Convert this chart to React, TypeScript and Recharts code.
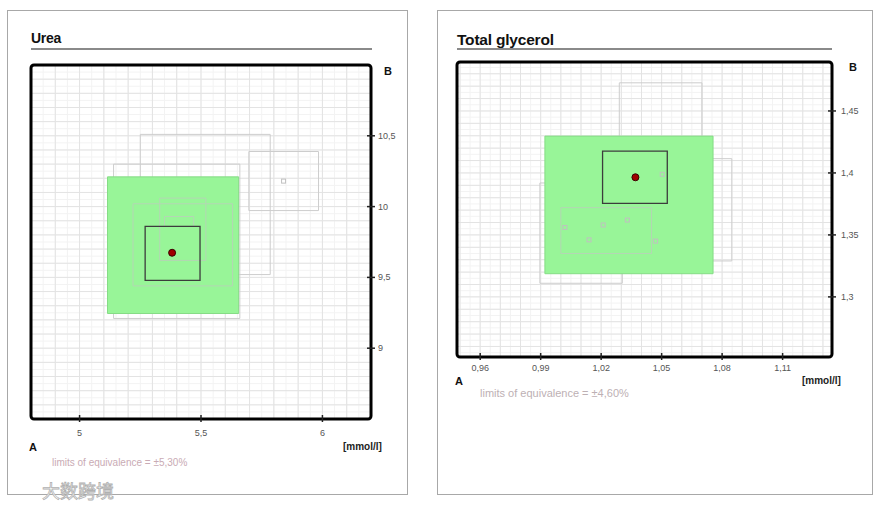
import React from 'react';
import {
  ScatterChart,
  Scatter,
  XAxis,
  YAxis,
  CartesianGrid,
  ReferenceArea,
} from 'recharts';

type Box = [number, number, number, number]; // x1, x2, y1, y2
type Pt = { x: number; y: number };

// ---- Urea ----
const ureaDomainX: [number, number] = [4.8, 6.2];
const ureaDomainY: [number, number] = [8.5, 11];
const ureaXTicks = [5, 5.5, 6];
const ureaYTicks = [9, 9.5, 10, 10.5];
const ureaLimits: Box = [5.115, 5.655, 9.245, 10.21];
const ureaTarget: Box = [5.27, 5.496, 9.479, 9.861];
const ureaOtherBoxes: Box[] = [
  [5.25, 5.785, 9.52, 10.51],
  [5.14, 5.66, 9.21, 10.3],
  [5.697, 5.984, 9.972, 10.389],
];
const ureaFaintBoxes: Box[] = [
  [5.22, 5.63, 9.44, 10.02],
  [5.33, 5.52, 9.62, 10.06],
  [5.35, 5.47, 9.86, 9.93],
];
const ureaResult: Pt[] = [{ x: 5.381, y: 9.674 }];
const ureaOtherPoints: Pt[] = [{ x: 5.84, y: 10.18 }];

// ---- Total glycerol ----
const glyDomainX: [number, number] = [0.9485, 1.1345];
const glyDomainY: [number, number] = [1.2515, 1.4895];
const glyXTicks = [0.96, 0.99, 1.02, 1.05, 1.08, 1.11];
const glyYTicks = [1.3, 1.35, 1.4, 1.45];
const glyLimits: Box = [0.9921, 1.0755, 1.3187, 1.4297];
const glyTarget: Box = [1.0207, 1.0528, 1.3755, 1.4176];
const glyOtherBoxes: Box[] = [
  [1.029, 1.07, 1.329, 1.4727],
  [0.9896, 1.0305, 1.311, 1.3919],
  [1.0227, 1.0848, 1.329, 1.4115],
];
const glyFaintBoxes: Box[] = [
  [1.0, 1.045, 1.335, 1.372],
];
const glyResult: Pt[] = [{ x: 1.037, y: 1.3965 }];
const glyOtherPoints: Pt[] = [
  { x: 1.0503, y: 1.3989 },
  { x: 1.033, y: 1.362 },
  { x: 1.021, y: 1.358 },
  { x: 1.002, y: 1.356 },
  { x: 1.047, y: 1.345 },
  { x: 1.014, y: 1.346 },
];

const steps = (lo: number, hi: number, step: number) => {
  const out: number[] = [];
  for (let v = Math.ceil(lo / step) * step; v <= hi + 1e-9; v += step) out.push(+v.toFixed(4));
  return out;
};

const fmt = (v: number) => String(v).replace('.', ',');
const FONT = '"Liberation Sans", Arial, sans-serif';

const XTick = ({ x, y, payload, dy }: any) => (
  <g>
    <line x1={x} x2={x} y1={y - 4} y2={y + 3} stroke="#222" strokeWidth={1.5} />
    <text x={x} y={y + dy} textAnchor="middle" fontSize={9} fill="#555" fontFamily={FONT}>
      {fmt(payload.value)}
    </text>
  </g>
);

const YTick = ({ x, y, payload, dx }: any) => (
  <g>
    <line x1={x - 4} x2={x + 4} y1={y} y2={y} stroke="#222" strokeWidth={1.5} />
    <text x={x + dx} y={y + 3} textAnchor="start" fontSize={9} fill="#555" fontFamily={FONT}>
      {fmt(payload.value)}
    </text>
  </g>
);

const ResultDot = ({ cx, cy }: any) => (
  <circle cx={cx} cy={cy} r={3.5} fill="#a00000" stroke="#3a0000" strokeWidth={1} />
);
const GrayDot = ({ cx, cy }: any) => (
  <rect x={cx - 2} y={cy - 2} width={4} height={4} fill="none" stroke="#c0c0c0" strokeWidth={1} />
);

interface PanelProps {
  width: number;
  height: number;
  margin: { top: number; right: number; bottom: number; left: number };
  domainX: [number, number];
  domainY: [number, number];
  xTicks: number[];
  yTicks: number[];
  majorX: number;
  majorY: number;
  limits: Box;
  target: Box;
  others: Box[];
  faint: Box[];
  result: Pt[];
  otherPoints: Pt[];
  xLabelDy: number;
  yLabelDx: number;
}

function Panel(p: PanelProps) {
  const [x0, x1] = p.domainX;
  const [y0, y1] = p.domainY;
  return (
    <ScatterChart width={p.width} height={p.height} margin={p.margin}>
      <CartesianGrid
        stroke="#f3f3f3"
        verticalValues={steps(x0, x1, p.majorX / 2)}
        horizontalValues={steps(y0, y1, p.majorY / 2)}
      />
      <CartesianGrid
        stroke="#e3e3e3"
        verticalValues={steps(x0, x1, p.majorX)}
        horizontalValues={steps(y0, y1, p.majorY)}
      />
      <XAxis
        type="number"
        dataKey="x"
        domain={p.domainX}
        ticks={p.xTicks}
        allowDataOverflow
        axisLine={false}
        tickLine={false}
        tickSize={0}
        tickMargin={0}
        height={30}
        interval={0}
        tick={<XTick dy={p.xLabelDy} />}
      />
      <YAxis
        type="number"
        dataKey="y"
        orientation="right"
        domain={p.domainY}
        ticks={p.yTicks}
        allowDataOverflow
        axisLine={false}
        tickLine={false}
        tickSize={0}
        tickMargin={0}
        width={30}
        interval={0}
        tick={<YTick dx={p.yLabelDx} />}
      />
      {p.others.map((b, i) => (
        <ReferenceArea
          key={'o' + i}
          x1={b[0]}
          x2={b[1]}
          y1={b[2]}
          y2={b[3]}
          fill="none"
          stroke="#cdcdcd"
          strokeWidth={1}
        />
      ))}
      <ReferenceArea
        x1={p.limits[0]}
        x2={p.limits[1]}
        y1={p.limits[2]}
        y2={p.limits[3]}
        fill="#98f598"
        fillOpacity={1}
        stroke="#86dc86"
        strokeWidth={1}
      />
      {p.faint.map((b, i) => (
        <ReferenceArea
          key={'f' + i}
          x1={b[0]}
          x2={b[1]}
          y1={b[2]}
          y2={b[3]}
          fill="none"
          stroke="#b4d6b4"
          strokeWidth={1}
        />
      ))}
      <ReferenceArea
        x1={p.target[0]}
        x2={p.target[1]}
        y1={p.target[2]}
        y2={p.target[3]}
        fill="none"
        stroke="#3c3c3c"
        strokeWidth={1.3}
      />
      <ReferenceArea
        x1={x0}
        x2={x1}
        y1={y0}
        y2={y1}
        fill="none"
        stroke="#000"
        strokeWidth={3}
        radius={3}
      />
      <Scatter data={p.otherPoints} shape={<GrayDot />} isAnimationActive={false} />
      <Scatter data={p.result} shape={<ResultDot />} isAnimationActive={false} />
    </ScatterChart>
  );
}

const abs = (left: number, top: number, extra: React.CSSProperties = {}): React.CSSProperties => ({
  position: 'absolute',
  left,
  top,
  fontFamily: FONT,
  whiteSpace: 'nowrap',
  lineHeight: 1,
  ...extra,
});

export default function App() {
  return (
    <div style={{ position: 'absolute', left: 0, top: 0, width: 878, height: 509, background: '#fff', overflow: 'hidden' }}>
      {/* panel frames */}
      <div style={abs(7, 10, { width: 399, height: 483, border: '1px solid #a8a8a8' })} />
      <div style={abs(437, 10, { width: 434, height: 483, border: '1px solid #a8a8a8' })} />

      {/* Urea */}
      <div style={abs(31, 31, { fontSize: 14, fontWeight: 'bold', color: '#111', letterSpacing: -0.3 })}>Urea</div>
      <div style={abs(31, 48, { width: 341, height: 2, background: '#8a8a8a' })} />
      <div style={abs(0, 0)}>
        <Panel
          width={420}
          height={470}
          margin={{ top: 65, left: 31, right: 19, bottom: 21 }}
          domainX={ureaDomainX}
          domainY={ureaDomainY}
          xTicks={ureaXTicks}
          yTicks={ureaYTicks}
          majorX={0.1}
          majorY={0.1}
          limits={ureaLimits}
          target={ureaTarget}
          others={ureaOtherBoxes}
          faint={ureaFaintBoxes}
          result={ureaResult}
          otherPoints={ureaOtherPoints}
          xLabelDy={17}
          yLabelDx={7}
        />
      </div>
      <div style={abs(384, 66, { fontSize: 11, fontWeight: 'bold', color: '#111' })}>B</div>
      <div style={abs(29, 442, { fontSize: 11, fontWeight: 'bold', color: '#111' })}>A</div>
      <div style={abs(343, 442, { fontSize: 10, fontWeight: 'bold', color: '#222' })}>[mmol/l]</div>
      <div style={abs(52, 458, { fontSize: 10, color: '#c9abb4' })}>limits of equivalence = ±5,30%</div>

      {/* Total glycerol */}
      <div style={abs(457, 32, { fontSize: 15.5, fontWeight: 'bold', color: '#111', letterSpacing: -0.2 })}>
        Total glycerol
      </div>
      <div style={abs(457, 48, { width: 375, height: 2, background: '#8a8a8a' })} />
      <div style={abs(426, 0)}>
        <Panel
          width={450}
          height={400}
          margin={{ top: 62, left: 31, right: 14, bottom: 13 }}
          domainX={glyDomainX}
          domainY={glyDomainY}
          xTicks={glyXTicks}
          yTicks={glyYTicks}
          majorX={0.01}
          majorY={0.01}
          limits={glyLimits}
          target={glyTarget}
          others={glyOtherBoxes}
          faint={glyFaintBoxes}
          result={glyResult}
          otherPoints={glyOtherPoints}
          xLabelDy={14}
          yLabelDx={9}
        />
      </div>
      <div style={abs(849, 62, { fontSize: 11, fontWeight: 'bold', color: '#111' })}>B</div>
      <div style={abs(455, 376, { fontSize: 11, fontWeight: 'bold', color: '#111' })}>A</div>
      <div style={abs(802, 376, { fontSize: 10, fontWeight: 'bold', color: '#222' })}>[mmol/l]</div>
      <div style={abs(480, 388, { fontSize: 11, color: '#bdb0b4' })}>limits of equivalence = ±4,60%</div>

      {/* watermark */}
      <div
        style={abs(42, 481, {
          fontFamily: '"Noto Sans CJK SC", sans-serif',
          fontSize: 18,
          color: '#fff',
          WebkitTextStroke: '0.8px #b0b0b0',
        })}
      >
        大数跨境
      </div>
    </div>
  );
}
